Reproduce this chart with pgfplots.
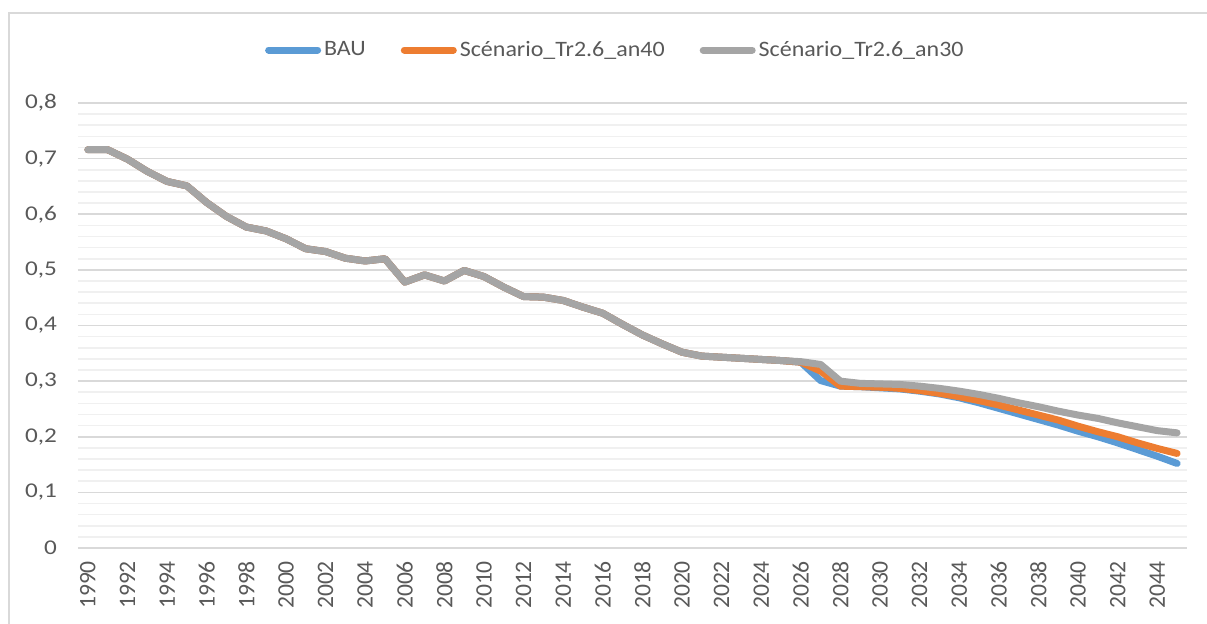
\documentclass[border=0pt]{standalone}
\usepackage{pgfplots}
\pgfplotsset{compat=1.18}
\usepackage{pgfplotstable}
\usepackage{fontspec}
\setmainfont{Carlito}
\definecolor{baublue}{HTML}{5B9BD5}
\definecolor{scorange}{HTML}{ED7D31}
\definecolor{scgray}{HTML}{A5A5A5}
\definecolor{txtgray}{HTML}{595959}
\definecolor{majgrid}{HTML}{D9D9D9}
\definecolor{mingrid}{HTML}{F0F0F0}
\newcommand{\wide}[1]{\scalebox{1.2}[1]{#1}}
\newcommand{\lwide}[1]{\scalebox{1.09}[1]{#1}}

\pgfplotstableread{
year bau an40 an30
1990 0.716 0.716 0.716
1991 0.716 0.716 0.716
1992 0.699 0.699 0.699
1993 0.677 0.677 0.677
1994 0.659 0.659 0.659
1995 0.651 0.651 0.651
1996 0.621 0.621 0.621
1997 0.596 0.596 0.596
1998 0.577 0.577 0.577
1999 0.570 0.570 0.570
2000 0.556 0.556 0.556
2001 0.538 0.538 0.538
2002 0.533 0.533 0.533
2003 0.521 0.521 0.521
2004 0.516 0.516 0.516
2005 0.520 0.520 0.520
2006 0.478 0.478 0.478
2007 0.491 0.491 0.491
2008 0.480 0.480 0.480
2009 0.499 0.499 0.499
2010 0.488 0.488 0.488
2011 0.469 0.469 0.469
2012 0.452 0.452 0.452
2013 0.451 0.451 0.451
2014 0.445 0.445 0.445
2015 0.433 0.433 0.433
2016 0.422 0.422 0.422
2017 0.402 0.402 0.402
2018 0.383 0.383 0.383
2019 0.367 0.367 0.367
2020 0.352 0.352 0.352
2021 0.345 0.345 0.345
2022 0.343 0.343 0.343
2023 0.341 0.341 0.341
2024 0.339 0.339 0.339
2025 0.337 0.337 0.337
2026 0.334 0.334 0.335
2027 0.301 0.318 0.330
2028 0.291 0.291 0.300
2029 0.290 0.290 0.296
2030 0.288 0.289 0.295
2031 0.286 0.287 0.294
2032 0.282 0.283 0.291
2033 0.277 0.278 0.287
2034 0.270 0.272 0.282
2035 0.261 0.265 0.276
2036 0.251 0.257 0.269
2037 0.241 0.248 0.261
2038 0.231 0.239 0.254
2039 0.221 0.230 0.246
2040 0.210 0.219 0.239
2041 0.200 0.209 0.233
2042 0.189 0.200 0.225
2043 0.177 0.189 0.218
2044 0.165 0.179 0.211
2045 0.152 0.170 0.207
}\emissions

\begin{document}
\begin{tikzpicture}
\path[use as bounding box] (-39pt,-37.5pt) rectangle (564.5pt,274pt);
\draw[majgrid, line width=0.8pt] (-34.5pt,-40pt) -- (-34.5pt,267.5pt) -- (570pt,267.5pt);
\begin{axis}[
  at={(0,0)}, anchor=south west,
  scale only axis,
  width=554.5pt, height=222.5pt,
  xmin=1989.5, xmax=2045.5,
  ymin=0, ymax=0.8,
  xtick={1990,1992,...,2044},
  ytick={0,0.1,0.2,0.3,0.4,0.5,0.6,0.7,0.8},
  yticklabels={\wide{0},\wide{0,1},\wide{0,2},\wide{0,3},\wide{0,4},\wide{0,5},\wide{0,6},\wide{0,7},\wide{0,8}},
  xticklabel={\pgfmathparse{int(round(\tick))}\pgfmathresult},
  minor y tick num=4,
  ymajorgrids, yminorgrids,
  major grid style={majgrid, line width=0.8pt},
  minor grid style={mingrid, line width=0.8pt},
  axis line style={draw=none},
  major tick length=0pt, minor tick length=0pt,
  tick label style={text=txtgray},
  xticklabel style={font=\fontsize{11.8}{13}\selectfont, rotate=90, anchor=east, xshift=-3pt},
  yticklabel style={font=\fontsize{10.5}{12}\selectfont, xshift=-7pt},
  legend style={draw=none, fill=none, at={(0.485,1.119)}, anchor=center,
    font=\fontsize{11}{13}\selectfont, text=txtgray, legend columns=3,
    nodes={inner xsep=1.5pt},
    /tikz/every even column/.append style={column sep=16pt},
    inner sep=0pt},
  legend cell align=left,
  legend image code/.code={\draw[line width=3.5pt, line cap=round] (1.75pt,0pt) -- (26.25pt,0pt);},
  every axis plot/.append style={line width=3.5pt, line join=round, line cap=round, mark=none},
]
\addplot[baublue] table[x=year, y=bau] {\emissions};
\addplot[scorange] table[x=year, y=an40] {\emissions};
\addplot[scgray] table[x=year, y=an30] {\emissions};
\legend{\lwide{BAU}, \lwide{Scénario\_Tr2.6\_an40}, \lwide{Scénario\_Tr2.6\_an30}}
\end{axis}
\end{tikzpicture}
\end{document}
